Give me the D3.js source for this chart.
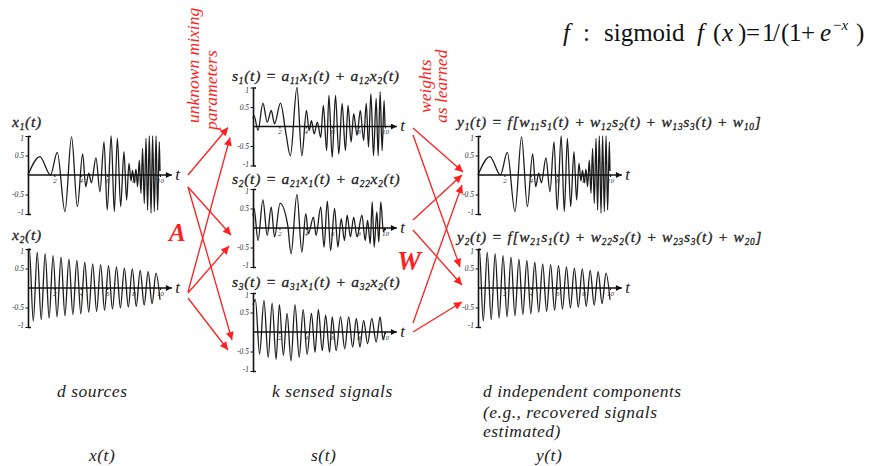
<!DOCTYPE html>
<html><head><meta charset="utf-8">
<script src="https://cdn.jsdelivr.net/npm/d3@7"></script>
<style>
body{margin:0;background:#fff}
svg{display:block}
svg text{font-family:"Liberation Serif","Times New Roman","DejaVu Serif",serif}
</style>
</head><body><svg id="c" width="870" height="466"></svg>
<script>
// ---------- data (extrema of each waveform, [t, value]) ----------
const tTicks = [2, 4, 6, 8, 10];
const vTicks = [1, 0.5, -0.5, -1];
const vTickLabels = ["1", "0.5", "-0.5", "-1"];

const x1Data = [[0,0],[0.9,0.47],[1.7,0],[2.22,0.58],[2.8,-0.94],[3.3,0.98],[3.74,-0.81],[4.14,0.54],[4.37,-0.3],[4.6,0.05],[4.8,-0.2],[5.15,0.44],[5.45,-0.43],[5.76,0.85],[6.0,-0.9],[6.3,1.0],[6.54,-0.94],[6.77,0.94],[7.02,-0.81],[7.27,0.6],[7.47,-0.64],[7.65,0.3],[7.8,-0.15],[7.92,0.12],[8.05,-0.2],[8.18,0.15],[8.3,-0.3],[8.43,0.38],[8.56,-0.47],[8.68,0.68],[8.81,-0.73],[8.94,0.94],[9.06,-0.9],[9.19,1.0],[9.32,-0.98],[9.44,1.0],[9.57,-0.94],[9.7,1.0],[9.82,-0.9],[9.95,0.85],[10.0,0.1]];

const x2Data = [[0,0.95],[0.1,1.0],[0.4,-0.85],[0.7,0.91],[1.0,-0.81],[1.3,0.88],[1.6,-0.77],[1.9,0.83],[2.2,-0.74],[2.5,0.79],[2.8,-0.71],[3.1,0.74],[3.4,-0.68],[3.7,0.71],[4.0,-0.66],[4.3,0.66],[4.6,-0.62],[4.9,0.62],[5.2,-0.6],[5.5,0.6],[5.8,-0.57],[6.1,0.57],[6.4,-0.54],[6.7,0.54],[7.0,-0.51],[7.3,0.51],[7.6,-0.49],[7.9,0.49],[8.2,-0.47],[8.5,0.45],[8.8,-0.44],[9.1,0.42],[9.4,-0.4],[9.7,0.38],[10.0,-0.3]];

const s1Data = [[0,0.2],[0.08,0.28],[0.38,-0.1],[0.75,0.6],[1.08,0.11],[1.38,0.41],[1.63,0.07],[2.08,0.6],[2.5,-0.19],[2.83,-0.75],[3.33,1.0],[3.7,-0.75],[4.05,0.41],[4.25,-0.1],[4.43,0.15],[4.63,-0.19],[4.88,0.11],[5.13,-0.28],[5.33,0.54],[5.58,-0.62],[5.75,0.8],[6.0,-0.79],[6.25,0.8],[6.5,-0.71],[6.75,0.59],[7.0,-0.62],[7.2,0.54],[7.43,-0.4],[7.63,0.33],[7.88,-0.23],[8.13,0.41],[8.38,-0.36],[8.58,0.59],[8.75,-0.53],[8.93,0.84],[9.13,-0.75],[9.33,0.72],[9.48,-0.75],[9.63,0.89],[9.78,-0.62],[9.93,0.67],[10.0,0]];

const s2Data = [[0,0.3],[0.08,0.5],[0.38,-0.32],[0.75,0.72],[1.08,-0.19],[1.38,0.54],[1.63,-0.23],[2.05,0.63],[2.63,0.07],[2.88,-0.66],[3.33,0.86],[3.7,-0.62],[4.0,0.37],[4.2,-0.15],[4.58,0.28],[4.78,-0.19],[5.13,0.54],[5.38,-0.49],[5.63,0.69],[5.88,-0.58],[6.18,0.5],[6.43,-0.49],[6.68,0.24],[6.93,-0.32],[7.13,0.33],[7.38,-0.23],[7.63,0.28],[7.88,-0.23],[8.25,0.33],[8.5,-0.32],[8.68,0.2],[8.88,-0.4],[9.03,0.67],[9.18,-0.49],[9.38,0.41],[9.53,-0.36],[9.68,0.67],[9.88,-0.1],[10.0,0]];

const s3Data = [[0,0.7],[0.18,0.83],[0.5,-0.57],[0.83,0.81],[1.15,-0.65],[1.45,0.74],[1.75,-0.7],[2.0,0.7],[2.3,-0.6],[2.58,0.48],[2.88,-0.74],[3.18,0.7],[3.5,-0.65],[3.8,0.57],[4.1,-0.57],[4.43,0.48],[4.7,-0.52],[4.95,0.57],[5.25,-0.48],[5.5,0.43],[5.8,-0.52],[6.0,0.39],[6.3,-0.48],[6.63,0.39],[6.95,-0.43],[7.25,0.39],[7.55,-0.39],[7.83,0.35],[8.1,-0.39],[8.38,0.3],[8.68,-0.3],[9.0,0.35],[9.33,-0.26],[9.63,0.39],[9.85,-0.2],[10.0,0]];

const y1Data = x1Data;   // recovered components match the sources
const y2Data = x2Data;

// ---------- layout ----------
const svg = d3.select("#c");
const RED = "#ff1f1f";
const LSIZE = 15.5;

const panels = {
  x1: {data: x1Data, ox: 28,  oy: 175, lx: 12,  ly: 127,
       label: [["x"],["1",1],["(t)"]]},
  x2: {data: x2Data, ox: 28,  oy: 288, lx: 12,  ly: 240,
       label: [["x"],["2",1],["(t)"]]},
  s1: {data: s1Data, ox: 253, oy: 126.5, lx: 232, ly: 81,
       label: [["s"],["1",1],["(t) = a"],["11",1],["x"],["1",1],["(t) + a"],["12",1],["x"],["2",1],["(t)"]]},
  s2: {data: s2Data, ox: 253, oy: 228, lx: 232, ly: 183.5,
       label: [["s"],["2",1],["(t) = a"],["21",1],["x"],["1",1],["(t) + a"],["22",1],["x"],["2",1],["(t)"]]},
  s3: {data: s3Data, ox: 253, oy: 332, lx: 232, ly: 287,
       label: [["s"],["3",1],["(t) = a"],["31",1],["x"],["1",1],["(t) + a"],["32",1],["x"],["2",1],["(t)"]]},
  y1: {data: y1Data, ox: 478, oy: 175, lx: 457, ly: 127,
       label: [["y"],["1",1],["(t) = f[w"],["11",1],["s"],["1",1],["(t) + w"],["12",1],["s"],["2",1],["(t) + w"],["13",1],["s"],["3",1],["(t) + w"],["10",1],["]"]]},
  y2: {data: y2Data, ox: 478, oy: 288, lx: 457, ly: 242,
       label: [["y"],["2",1],["(t) = f[w"],["21",1],["s"],["1",1],["(t) + w"],["22",1],["s"],["2",1],["(t) + w"],["23",1],["s"],["3",1],["(t) + w"],["20",1],["]"]]}
};

const defs = svg.append("defs");
defs.append("marker").attr("id","ahRed").attr("viewBox","0 0 10 10")
  .attr("refX",10).attr("refY",5).attr("markerWidth",11).attr("markerHeight",8)
  .attr("markerUnits","userSpaceOnUse").attr("orient","auto")
  .append("path").attr("d","M0,0L10,5L0,10z").attr("fill",RED);
defs.append("marker").attr("id","ahBlack").attr("viewBox","0 0 10 10")
  .attr("refX",10).attr("refY",5).attr("markerWidth",9).attr("markerHeight",6)
  .attr("markerUnits","userSpaceOnUse").attr("orient","auto")
  .append("path").attr("d","M0,0L10,5L0,10z").attr("fill","#111");

function writeLabel(sel, segs, size) {
  segs.forEach((s, i) => {
    const prevSub = i > 0 && segs[i-1][1];
    const ts = sel.append("tspan").text(s[0]);
    if (s[1]) ts.attr("font-size", size*0.6).attr("dy", prevSub ? 0 : size*0.22);
    else if (prevSub) ts.attr("dy", -size*0.22);
  });
}

Object.entries(panels).forEach(([key, p]) => {
  const g = svg.append("g");
  const xs = d3.scaleLinear().domain([0, 10]).range([p.ox, p.ox + 132]);
  const ys = d3.scaleLinear().domain([-1, 1]).range([p.oy + 39, p.oy - 39]);

  // signal
  g.append("path").datum(p.data)
    .attr("d", d3.line().x(d => xs(d[0])).y(d => ys(d[1])).curve(d3.curveMonotoneX))
    .attr("fill","none").attr("stroke","#1c1c1c").attr("stroke-width",1.3);

  // y axis (bracket shape)
  const ya = g.append("g").attr("transform",`translate(${p.ox},0)`)
    .call(d3.axisLeft(ys).tickValues(vTicks).tickSize(2.5).tickSizeOuter(-3)
      .tickFormat((d,i) => vTickLabels[i]));
  ya.attr("font-family", null);
  ya.select(".domain").attr("stroke","#111").attr("stroke-width",1.6);
  ya.selectAll(".tick line").attr("stroke","#111");
  ya.selectAll(".tick text").attr("font-style","italic")
    .attr("font-size",7.5).attr("fill","#333").attr("x",-4)
    .attr("dy", d => d === 1 ? "0.6em" : (d === -1 ? "0.1em" : "0.32em"));

  // x axis with arrow
  const xa = g.append("g").attr("transform",`translate(0,${p.oy})`)
    .call(d3.axisBottom(xs).tickValues(tTicks).tickSize(2).tickSizeOuter(0));
  xa.attr("font-family", null);
  xa.select(".domain").remove();
  xa.selectAll(".tick line").attr("stroke","#111");
  xa.selectAll(".tick text").attr("font-style","italic")
    .attr("font-size",7).attr("fill","#333").attr("y",3);
  g.append("line").attr("x1",xs(0)).attr("x2",xs(10.9)).attr("y1",p.oy).attr("y2",p.oy)
    .attr("stroke","#111").attr("stroke-width",1.3).attr("marker-end","url(#ahBlack)");
  g.append("text").attr("x",xs(11.15)).attr("y",p.oy+4.5).text("t")
    .attr("font-style","italic").attr("font-size",17).attr("fill","#222");

  // label
  const lab = g.append("text").attr("x",p.lx).attr("y",p.ly)
    .attr("font-style","italic").attr("font-size",LSIZE).attr("fill","#222")
    .attr("letter-spacing",0.75).attr("stroke","#222").attr("stroke-width",0.3);
  writeLabel(lab, p.label, LSIZE);
});

// ---------- red arrows ----------
const links = [
  {f:"x1", t:"s1", so:0,  eo:1,  ex:-25},
  {f:"x1", t:"s2", so:12, eo:7,  ex:-22},
  {f:"x1", t:"s3", so:12, eo:8,  ex:-21},
  {f:"x2", t:"s1", so:4,  eo:11, ex:-23},
  {f:"x2", t:"s2", so:5,  eo:18, ex:-24},
  {f:"x2", t:"s3", so:10, eo:18, ex:-25},
  {f:"s1", t:"y1", so:1.5, eo:-3, ex:-15},
  {f:"s1", t:"y2", so:8.5, eo:-21, ex:-18},
  {f:"s2", t:"y1", so:-8, eo:0,  ex:-16},
  {f:"s2", t:"y2", so:2,  eo:-3, ex:-16},
  {f:"s3", t:"y1", so:-9, eo:10, ex:-16},
  {f:"s3", t:"y2", so:0,  eo:14, ex:-16}
];
svg.append("g").selectAll("line").data(links).join("line")
  .attr("x1", d => panels[d.f].ox + 160).attr("y1", d => panels[d.f].oy + d.so)
  .attr("x2", d => panels[d.t].ox + d.ex).attr("y2", d => panels[d.t].oy + d.eo)
  .attr("stroke", RED).attr("stroke-width", 1.3).attr("marker-end","url(#ahRed)");

// ---------- red annotations ----------
function vtext(x, y, txt, size) {
  svg.append("text").attr("transform",`translate(${x},${y}) rotate(-90)`).text(txt)
    .attr("font-style","italic").attr("font-size",size).attr("fill",RED);
}
vtext(199, 123, "unknown mixing", 17.5);
vtext(217, 130, "parameters", 17.5);
vtext(431, 113, "weights", 17.5);
vtext(447, 123, "as learned", 17.5);
svg.append("text").attr("x",169).attr("y",241).text("A")
  .attr("font-style","italic").attr("font-weight","bold")
  .attr("font-size",25).attr("fill",RED);
svg.append("text").attr("x",397).attr("y",270).text("W")
  .attr("font-style","italic").attr("font-weight","bold")
  .attr("font-size",27).attr("fill",RED);

// ---------- sigmoid formula ----------
const fx = svg.append("text").attr("y",41).attr("font-size",25).attr("fill","#111");
fx.append("tspan").attr("x",563).attr("font-style","italic").text("f");
fx.append("tspan").attr("x",583).text(":");
fx.append("tspan").attr("x",604).text("sigmoid");
fx.append("tspan").attr("x",697).attr("font-style","italic").text("f");
fx.append("tspan").attr("x",713).text("(");
fx.append("tspan").attr("x",722).attr("font-style","italic").text("x");
fx.append("tspan").attr("x",738).text(")");
fx.append("tspan").attr("x",746).text("=");
fx.append("tspan").attr("x",762).text("1");
fx.append("tspan").attr("x",773).text("/");
fx.append("tspan").attr("x",781).text("(");
fx.append("tspan").attr("x",789).text("1");
fx.append("tspan").attr("x",801).text("+");
fx.append("tspan").attr("x",820).attr("font-style","italic").text("e");
fx.append("tspan").attr("x",833).attr("font-size",15).attr("dy",-11).text("−");
fx.append("tspan").attr("font-size",15).attr("font-style","italic").text("x");
fx.append("tspan").attr("x",856).attr("dy",11).text(")");

// ---------- bottom captions ----------
const captions = [
  {x:57,  y:397, s:"d sources"},
  {x:272, y:397, s:"k sensed signals"},
  {x:483, y:397, s:"d independent components"},
  {x:483, y:418, s:"(e.g., recovered signals"},
  {x:483, y:437, s:"estimated)"},
  {x:89,  y:461, s:"x(t)"},
  {x:311, y:461, s:"s(t)"},
  {x:536, y:461, s:"y(t)"}
];
svg.append("g").selectAll("text").data(captions).join("text")
  .attr("x", d => d.x).attr("y", d => d.y).text(d => d.s)
  .attr("font-style","italic").attr("font-size",17.5).attr("letter-spacing",0.5).attr("fill","#222");
</script></body></html>
